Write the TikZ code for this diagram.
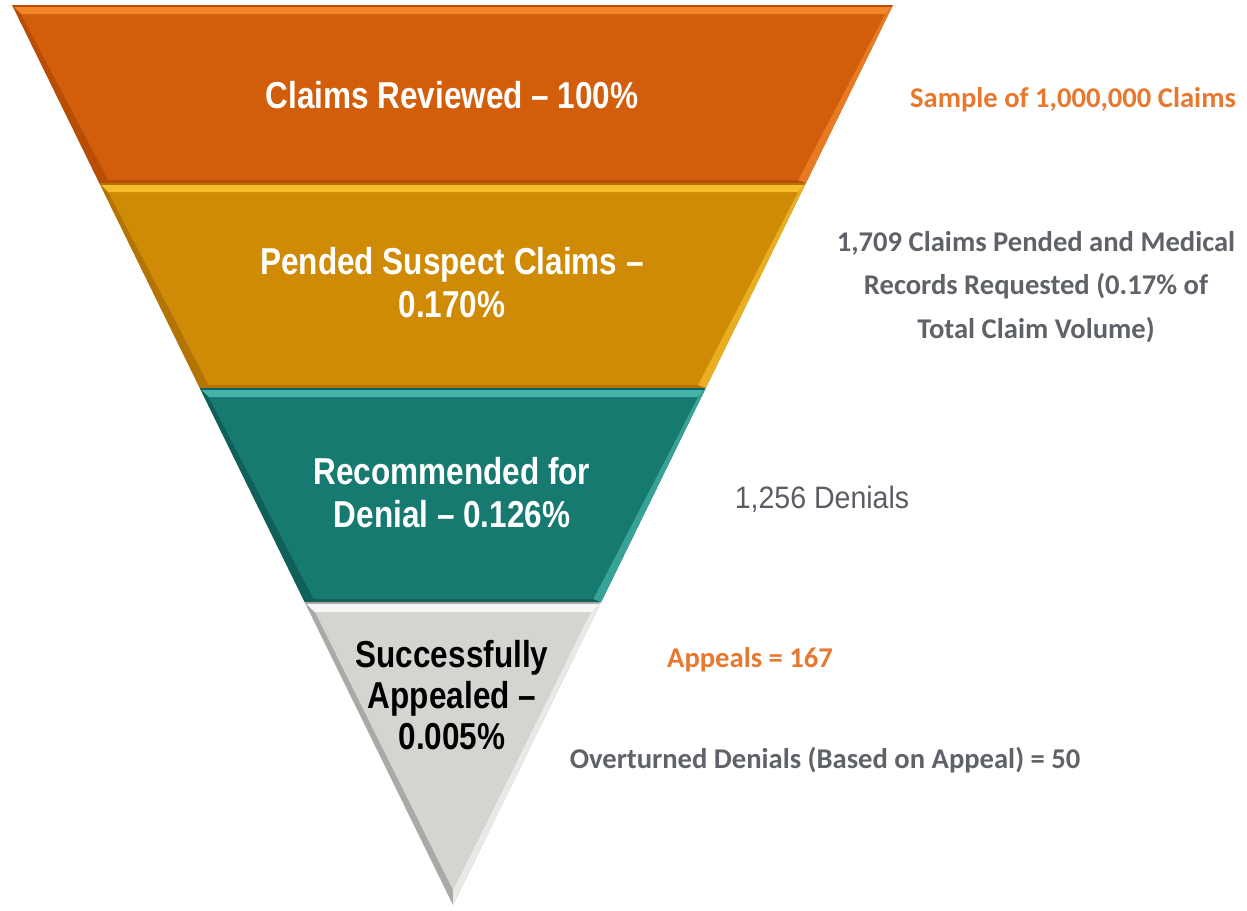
\documentclass[tikz,border=0pt]{standalone}
\usepackage{fontspec}
\setmainfont{Liberation Sans}
\newfontfamily\funnelfont[FakeStretch=0.84]{Liberation Sans}
\newfontfamily\notefont{Carlito}
\newfontfamily\plainfont[FakeStretch=0.92]{Liberation Sans}

\definecolor{orMain}{HTML}{D25E0B}
\definecolor{orLight}{HTML}{F2862A}
\definecolor{orDark}{HTML}{B84E06}
\definecolor{yeMain}{HTML}{CF8B06}
\definecolor{yeLight}{HTML}{F6BE2C}
\definecolor{yeDark}{HTML}{B37404}
\definecolor{teMain}{HTML}{167A71}
\definecolor{teLight}{HTML}{45B3A8}
\definecolor{teDark}{HTML}{0F6058}
\definecolor{grMain}{HTML}{D4D4D1}
\definecolor{grLight}{HTML}{F7F7F5}
\definecolor{grDark}{HTML}{A9A9A6}
\definecolor{noteOrange}{HTML}{E8782E}
\definecolor{noteGray}{HTML}{5F6369}

\tikzset{
  declare function={xl(\t)=12+0.49*(\t-5); xr(\t)=893-0.4889*(\t-5);},
  bandtext/.style={font=\funnelfont\bfseries\fontsize{37.5}{43}\selectfont, text=white, align=center},
  tiptext/.style={font=\funnelfont\bfseries\fontsize{37.5}{41}\selectfont, text=black, align=center},
  orangenote/.style={font=\notefont\bfseries\fontsize{28.6}{34}\selectfont, text=noteOrange},
  graynote/.style={font=\notefont\bfseries\fontsize{28.6}{43.5}\selectfont, text=noteGray, align=center},
}

% one bevelled band of the funnel between heights #1 and #2
\newcommand{\funnelband}[5]{%
  \fill[#5] ({xl(#1)},#1) -- ({xr(#1)},#1) -- ({xr(#2)},#2) -- ({xl(#2)},#2) -- cycle;
  \fill[#4!70!#3] ({xr(#1)},#1) -- ({xr(#2)},#2) -- ({xr(#2)-8},#2-3) -- ({xr(#1)-8},#1+9) -- cycle;
  \fill[#3] ({xl(#1)+9},#1+9) -- ({xr(#1)-8},#1+9) -- ({xr(#2)-8},#2-3) -- ({xl(#2)+9},#2-3) -- cycle;
  \fill[#4] ({xl(#1)+2},#1+2) -- ({xr(#1)-2},#1+2) -- ({xr(#1)-8},#1+9) -- ({xl(#1)+9},#1+9) -- cycle;
}

\begin{document}
\begin{tikzpicture}[x=1pt,y=-1pt]
\useasboundingbox (0,0) rectangle (1247,910);
\fill[white] (0,0) rectangle (1247,910);

% funnel bands
\funnelband{5}{183}{orMain}{orLight}{orDark}
\funnelband{183}{388}{yeMain}{yeLight}{yeDark}
\funnelband{388}{602}{teMain}{teLight}{teDark}

% bottom tip
\fill[grDark] ({xl(602)},602) -- ({xr(602)},602) -- (453,905) -- cycle;
\fill[grLight!60!grMain] ({xr(602)},602) -- (453,905) -- (453,890) -- ({xr(602)-10},611) -- cycle;
\fill[grMain] ({xl(602)+10},611) -- ({xr(602)-10},611) -- (453,890) -- cycle;
\fill[grLight] ({xl(602)+2},604) -- ({xr(602)-2},604) -- ({xr(602)-10},612) -- ({xl(602)+10},612) -- cycle;

% labels inside the funnel
\node[bandtext] (reviewed) at (452,95) {Claims Reviewed – 100\%};
\node[bandtext] (pended) at (452,283) {Pended Suspect Claims –\\0.170\%};
\node[bandtext] (denial) at (452,493) {Recommended for\\Denial – 0.126\%};
\node[tiptext] (appealed) at (452,695) {Successfully\\Appealed –\\0.005\%};

% notes beside the funnel
\node[orangenote] (sample) at (1073,100) {Sample of 1,000,000 Claims};
\node[graynote] (records) at (1036,287) {1,709 Claims Pended and Medical\\Records Requested (0.17\% of\\Total Claim Volume)};
\node[font=\plainfont\fontsize{31}{36}\selectfont, text=noteGray!95!black] (denials) at (822,499) {1,256 Denials};
\node[orangenote] (appeals) at (750,660) {Appeals = 167};
\node[graynote] (overturned) at (825,760) {Overturned Denials (Based on Appeal) = 50};
\end{tikzpicture}
\end{document}
